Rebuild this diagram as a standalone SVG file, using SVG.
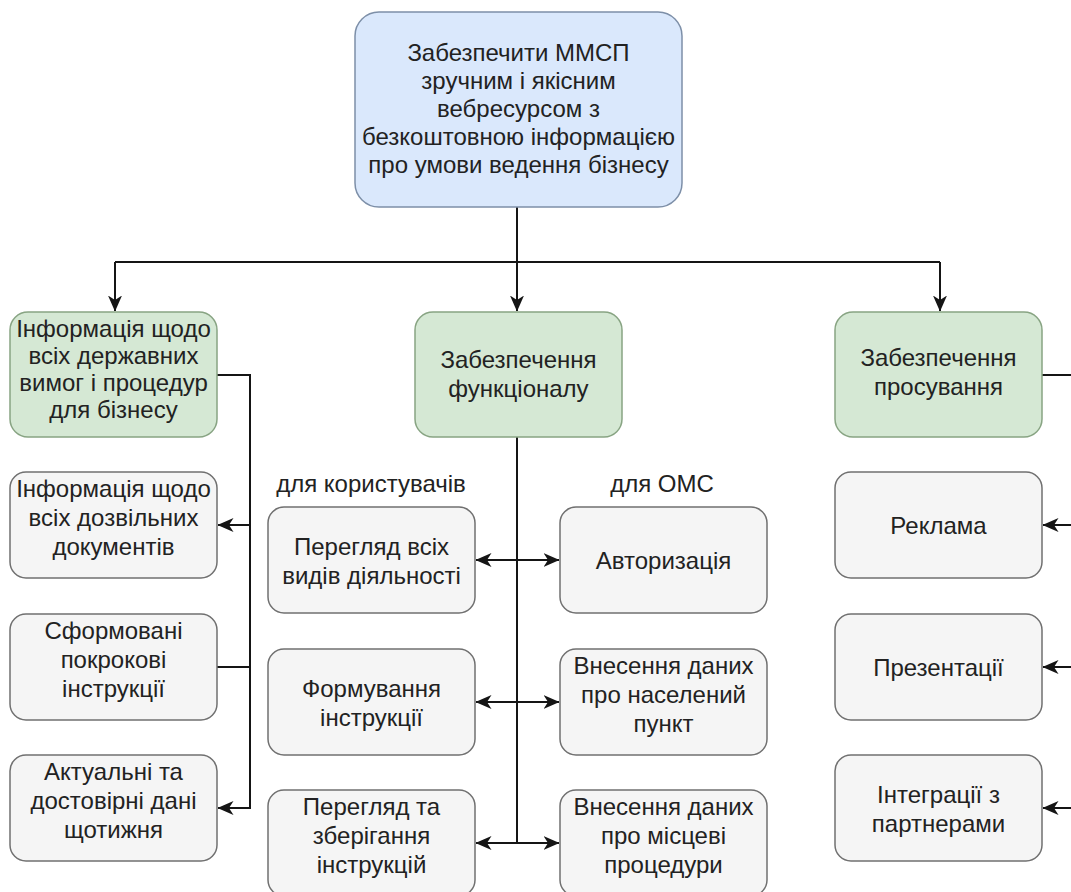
<svg xmlns="http://www.w3.org/2000/svg" width="1071" height="892" viewBox="0 0 1071 892">
  <style>
    .box { stroke-width: 1.5; }
    .goal { fill: #dae8fc; stroke: #7d8fa8; }
    .area { fill: #d5e8d4; stroke: #88a483; }
    .item { fill: #f5f5f5; stroke: #707070; }
    text { font-family: "Liberation Sans", Arial, sans-serif; font-size: 24px; fill: #222222; text-anchor: middle; }
    .link { fill: none; stroke: #151515; stroke-width: 2; }
  </style>
  <defs>
    <marker id="arrow" viewBox="0 0 16 14" refX="15.5" refY="7" markerWidth="16" markerHeight="14" markerUnits="userSpaceOnUse" orient="auto-start-reverse">
      <path d="M0,0 L16,7 L0,14 L4.5,7 Z" fill="#151515"/>
    </marker>
  </defs>
  <rect width="1071" height="892" fill="#ffffff"/>

  <!-- connectors -->
  <g id="connectors">
    <path class="link" d="M517 207 V262"/>
    <path class="link" d="M115 262 H940"/>
    <path class="link" d="M115 262 V311" marker-end="url(#arrow)"/>
    <path class="link" d="M517 262 V311" marker-end="url(#arrow)"/>
    <path class="link" d="M940 262 V311" marker-end="url(#arrow)"/>

    <!-- state requirements branch -->
    <path class="link" d="M217 375 H250 V808 H218" marker-end="url(#arrow)"/>
    <path class="link" d="M250 525 H218" marker-end="url(#arrow)"/>
    <path class="link" d="M250 667 H217"/>

    <!-- functionality branch -->
    <path class="link" d="M517 437 V843"/>
    <path class="link" d="M476 560 H559" marker-start="url(#arrow)" marker-end="url(#arrow)"/>
    <path class="link" d="M476 702 H559" marker-start="url(#arrow)" marker-end="url(#arrow)"/>
    <path class="link" d="M476 843 H559" marker-start="url(#arrow)" marker-end="url(#arrow)"/>

    <!-- promotion branch -->
    <path class="link" d="M1042 375 H1085 V808"/>
    <path class="link" d="M1085 525 H1043" marker-end="url(#arrow)"/>
    <path class="link" d="M1085 667 H1043" marker-end="url(#arrow)"/>
    <path class="link" d="M1085 808 H1043" marker-end="url(#arrow)"/>
  </g>

  <!-- goal -->
  <g id="goal">
    <rect class="box goal" x="355" y="12" width="327" height="195" rx="24"/>
    <text x="518.5" y="61">Забезпечити ММСП</text>
    <text x="518.5" y="89">зручним і якісним</text>
    <text x="518.5" y="117">вебресурсом з</text>
    <text x="518.5" y="145">безкоштовною інформацією</text>
    <text x="518.5" y="173">про умови ведення бізнесу</text>
  </g>

  <!-- level 2 -->
  <g id="state-info">
    <rect class="box area" x="10" y="312" width="207" height="125" rx="18"/>
    <text x="113.5" y="337">Інформація щодо</text>
    <text x="113.5" y="364">всіх державних</text>
    <text x="113.5" y="391">вимог і процедур</text>
    <text x="113.5" y="418">для бізнесу</text>
  </g>
  <g id="functionality">
    <rect class="box area" x="415" y="312" width="207" height="125" rx="18"/>
    <text x="518.5" y="368">Забезпечення</text>
    <text x="518.5" y="397">функціоналу</text>
  </g>
  <g id="promotion">
    <rect class="box area" x="835" y="312" width="207" height="125" rx="18"/>
    <text x="938.5" y="366">Забезпечення</text>
    <text x="938.5" y="395">просування</text>
  </g>

  <!-- group labels -->
  <g id="labels">
    <text x="371" y="492">для користувачів</text>
    <text x="662" y="492">для ОМС</text>
  </g>

  <!-- state info items -->
  <g id="permits">
    <rect class="box item" x="10" y="472" width="207" height="106" rx="16"/>
    <text x="113.5" y="497">Інформація щодо</text>
    <text x="113.5" y="526">всіх дозвільних</text>
    <text x="113.5" y="555">документів</text>
  </g>
  <g id="step-instructions">
    <rect class="box item" x="10" y="614" width="207" height="106" rx="16"/>
    <text x="113.5" y="639">Сформовані</text>
    <text x="113.5" y="668">покрокові</text>
    <text x="113.5" y="697">інструкції</text>
  </g>
  <g id="weekly-data">
    <rect class="box item" x="10" y="755" width="207" height="106" rx="16"/>
    <text x="113.5" y="780">Актуальні та</text>
    <text x="113.5" y="809">достовірні дані</text>
    <text x="113.5" y="838">щотижня</text>
  </g>

  <!-- user functions -->
  <g id="browse-activities">
    <rect class="box item" x="268" y="507" width="207" height="106" rx="16"/>
    <text x="371.5" y="555">Перегляд всіх</text>
    <text x="371.5" y="584">видів діяльності</text>
  </g>
  <g id="build-instruction">
    <rect class="box item" x="268" y="649" width="207" height="106" rx="16"/>
    <text x="371.5" y="697">Формування</text>
    <text x="371.5" y="726">інструкції</text>
  </g>
  <g id="store-instructions">
    <rect class="box item" x="268" y="790" width="207" height="106" rx="16"/>
    <text x="371.5" y="815">Перегляд та</text>
    <text x="371.5" y="844">зберігання</text>
    <text x="371.5" y="873">інструкцій</text>
  </g>

  <!-- municipality functions -->
  <g id="authorization">
    <rect class="box item" x="560" y="507" width="207" height="106" rx="16"/>
    <text x="663.5" y="569">Авторизація</text>
  </g>
  <g id="settlement-data">
    <rect class="box item" x="560" y="649" width="207" height="106" rx="16"/>
    <text x="663.5" y="674">Внесення даних</text>
    <text x="663.5" y="703">про населений</text>
    <text x="663.5" y="732">пункт</text>
  </g>
  <g id="local-procedures">
    <rect class="box item" x="560" y="790" width="207" height="106" rx="16"/>
    <text x="663.5" y="815">Внесення даних</text>
    <text x="663.5" y="844">про місцеві</text>
    <text x="663.5" y="873">процедури</text>
  </g>

  <!-- promotion items -->
  <g id="advertising">
    <rect class="box item" x="835" y="472" width="207" height="106" rx="16"/>
    <text x="938.5" y="534">Реклама</text>
  </g>
  <g id="presentations">
    <rect class="box item" x="835" y="614" width="207" height="106" rx="16"/>
    <text x="938.5" y="676">Презентації</text>
  </g>
  <g id="partners">
    <rect class="box item" x="835" y="755" width="207" height="106" rx="16"/>
    <text x="938.5" y="803">Інтеграції з</text>
    <text x="938.5" y="832">партнерами</text>
  </g>
</svg>
